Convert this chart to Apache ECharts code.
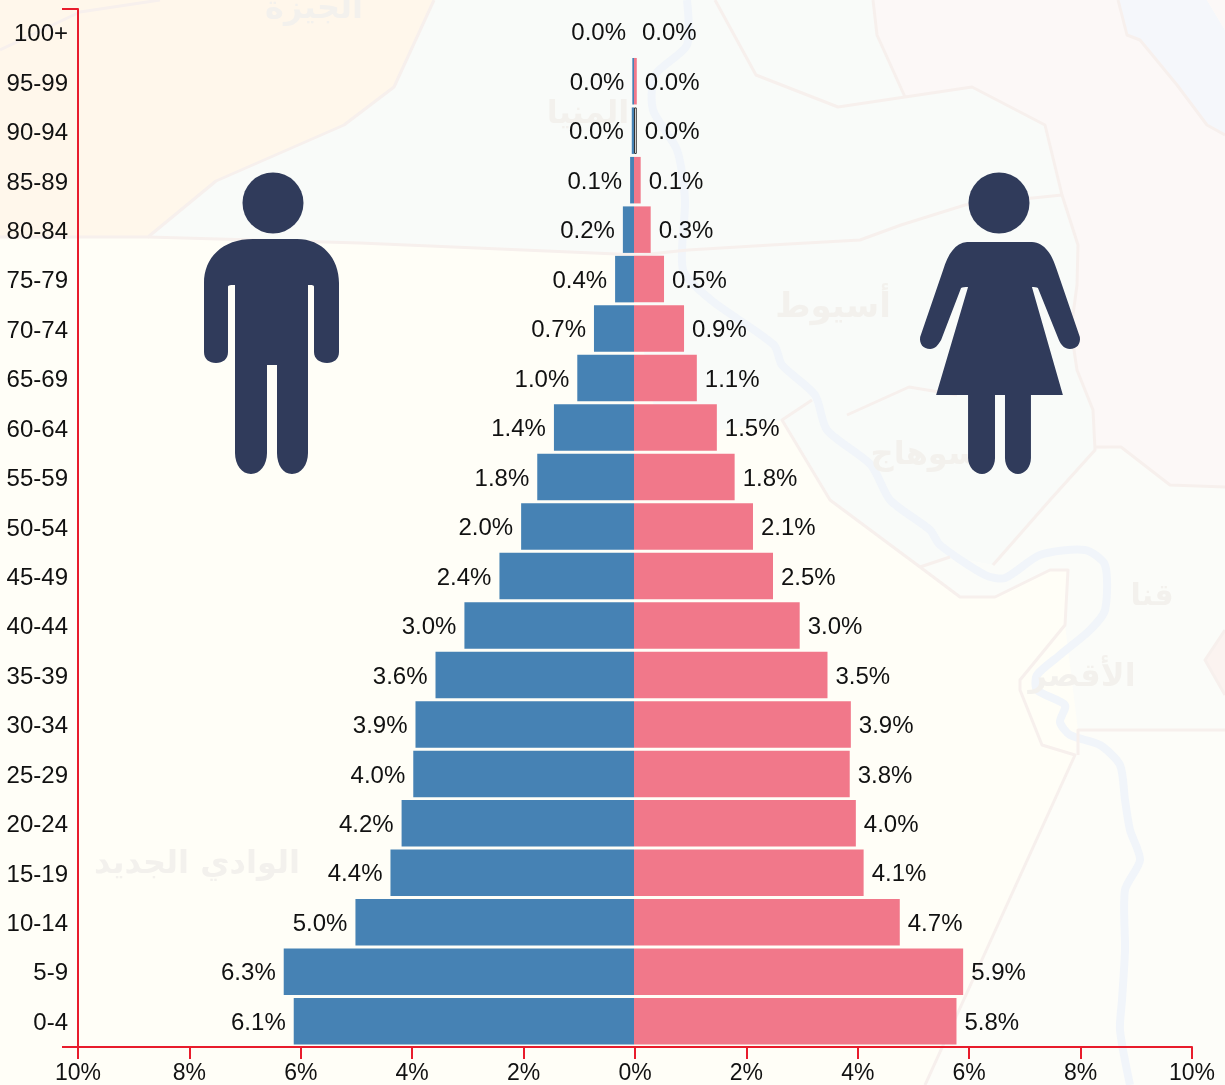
<!DOCTYPE html>
<html>
<head>
<meta charset="utf-8">
<style>html,body{margin:0;padding:0;background:#fffef7}#chart{width:1225px;height:1085px}</style>
<script src="https://cdn.jsdelivr.net/npm/echarts@6/dist/echarts.min.js"></script>
</head>
<body>
<div id="chart"></div>
<script>
const categories = ['0-4','5-9','10-14','15-19','20-24','25-29','30-34','35-39','40-44','45-49','50-54','55-59','60-64','65-69','70-74','75-79','80-84','85-89','90-94','95-99','100+'];
const maleValues = [6.12,6.30,5.01,4.38,4.18,3.97,3.93,3.57,3.05,2.42,2.03,1.74,1.44,1.02,0.72,0.34,0.20,0.07,0.04,0.03,0];
const femaleValues = [5.80,5.92,4.78,4.13,3.99,3.88,3.90,3.48,2.98,2.50,2.14,1.81,1.49,1.13,0.90,0.54,0.30,0.12,0.05,0.05,0];
const maleLabels = ['6.1%','6.3%','5.0%','4.4%','4.2%','4.0%','3.9%','3.6%','3.0%','2.4%','2.0%','1.8%','1.4%','1.0%','0.7%','0.4%','0.2%','0.1%','0.0%','0.0%','0.0%'];
const femaleLabels = ['5.8%','5.9%','4.7%','4.1%','4.0%','3.8%','3.9%','3.5%','3.0%','2.5%','2.1%','1.8%','1.5%','1.1%','0.9%','0.5%','0.3%','0.1%','0.0%','0.0%','0.0%'];

const FONT = '"Liberation Sans", Arial, sans-serif';
const RED = '#e81c2c', INK = '#111111', BLUE = '#4682b4', PINK = '#f1788a', FIGURE = '#303b5b';

// Faint map backdrop (decoration only)
const mapAreas = [
  ['#fff7eb', [[0,0],[434,0],[394,87],[344,125],[216,181],[148,237],[0,237]]],
  ['#f9fbf9', [[434,0],[873,0],[877,35],[905,97],[972,87],[1045,125],[1062,195],[1078,245],[1077,285],[1071,330],[1077,370],[1093,410],[1095,450],[1050,500],[993,565],[950,557],[920,567],[830,500],[782,420],[660,440],[640,330],[640,255],[360,243],[148,237],[216,181],[344,125],[394,87]]],
  ['#fcf8f7', [[873,0],[1118,0],[1127,35],[1140,40],[1177,85],[1207,125],[1225,135],[1225,487],[1170,485],[1121,447],[1095,450],[1093,410],[1077,370],[1071,330],[1077,285],[1078,245],[1062,195],[1045,125],[972,87],[905,97],[877,35]]],
  ['#f5f7fb', [[1118,0],[1207,0],[1225,30],[1225,135],[1207,125],[1177,85],[1140,40],[1127,35]]],
  ['#fcf8f7', [[1207,0],[1225,0],[1225,30]]],
  ['#fbfcf9', [[1095,450],[1121,447],[1170,485],[1225,487],[1225,730],[1078,730],[1065,625],[1068,570],[1050,570],[993,597],[960,597],[920,567],[950,557],[993,565],[1050,500]]],
  ['#fdfdf9', [[1078,730],[1225,730],[1225,1085],[925,1085],[1075,755]]],
  ['#fbf3f0', [[1225,630],[1205,660],[1225,695]]]
];
const mapBorders = [
  [[0,50],[80,12],[160,0]],
  [[0,237],[148,237],[216,181],[344,125],[394,87],[434,0]],
  [[148,237],[360,243],[640,255],[688,250],[771,245],[860,240],[901,225],[965,205],[1062,195]],
  [[715,0],[756,75],[838,107],[905,97],[972,87],[1045,125],[1062,195],[1078,245],[1077,285],[1071,330],[1077,370],[1093,410],[1095,450],[1050,500],[993,565]],
  [[873,0],[877,35],[905,97]],
  [[1095,447],[1121,447],[1170,485],[1225,487]],
  [[812,400],[782,420],[830,500],[920,567],[960,597],[995,597],[1050,570],[1068,570],[1065,625],[1020,680],[1020,690],[1042,745],[1075,755],[925,1085]],
  [[847,415],[909,387],[957,395]],
  [[920,567],[950,557]],
  [[1078,755],[1078,730],[1225,730]],
  [[1225,630],[1205,660],[1225,695]],
  [[1118,0],[1127,35],[1140,40],[1177,85],[1207,125],[1225,135]]
];
const river = [[687,0],[687,45],[655,75],[653,110],[677,150],[685,200],[683,270],[711,300],[774,345],[782,365],[815,395],[827,430],[871,465],[890,500],[930,530],[940,545],[985,575],[1005,578],[1040,555],[1085,550],[1105,565],[1105,610],[1090,630],[1060,655],[1037,675],[1037,690],[1065,705],[1060,722],[1070,735],[1100,745],[1120,765],[1125,800],[1130,830],[1140,860],[1125,890],[1125,950],[1122,1000],[1120,1030],[1130,1085]];
const placeNames = [
  ['الجيزة',314,10,32],['المنيا',588,115,32],['أسيوط',833,308,34],['سوهاج',925,456,32],
  ['قنا',1152,597,30],['الأقصر',1082,678,32],['الوادي الجديد',197,865,32]
];

const manPath = 'M253 239 L297 239 C322 239 339 258 339 283 L339 352 C339 359 334 363 327 363 C320 363 314 359 314 352 L314 287 C314 285 312 285 308 285 L308 453 C308 465 301 474 292 474 C283 474 277 465 277 453 L277 365 L267 365 L267 453 C267 465 260 474 251 474 C242 474 235 465 235 453 L235 285 C231 285 228 285 228 287 L228 352 C228 359 223 363 216 363 C209 363 204 359 204 352 L204 283 C204 258 222 239 253 239 Z';
const womanPath = 'M967 242 L1032 242 C1045 243 1052 254 1057 270 L1080 337 C1081 344 1077 349 1070 349 C1065 349 1061 345 1059 340 L1038 288 C1037 287 1034 287 1032 287 L1063 395 L1031 395 L1031 458 C1031 467 1025 474 1018 474 C1011 474 1005 467 1005 458 L1005 395 L995 395 L995 458 C995 467 989 474 982 474 C975 474 968 467 968 458 L968 395 L936 395 L968 287 C965 287 962 287 961 288 L941 340 C938 345 935 349 930 349 C923 349 919 344 920 337 L943 270 C948 254 955 243 967 242 Z';

const backdrop = [];
mapAreas.forEach(a => backdrop.push({type:'polygon', silent:true, z:0, shape:{points:a[1]}, style:{fill:a[0]}}));
backdrop.push({type:'polyline', silent:true, z:0, shape:{points:river, smooth:0.25}, style:{fill:'none', stroke:'#f1f5fa', lineWidth:8, lineJoin:'round'}});
mapBorders.forEach(b => backdrop.push({type:'polyline', silent:true, z:0, shape:{points:b}, style:{fill:'none', stroke:'#f7f0ed', lineWidth:3, lineJoin:'round'}}));
placeNames.forEach(p => backdrop.push({type:'text', silent:true, z:0, x:p[1], y:p[2], style:{text:p[0], fill:'#f3f1ed', font:'bold '+p[3]+'px "DejaVu Sans"', textAlign:'center', textVerticalAlign:'middle'}}));

const labelStyle = {fontFamily:FONT, fontSize:24, color:INK};

const femaleData = femaleValues.map((v,i) => categories[i] === '90-94'
  ? {value:v, itemStyle:{color:'#ffffff', borderColor:'#333333', borderWidth:1}}
  : v);

const option = {
  backgroundColor:'#fffef7',
  animation:false,
  graphic:{elements:backdrop},
  grid:[
    {left:78, width:1112, top:7, height:1039},
    {left:78, width:1114, top:9, height:1039},
    {left:78, width:1112, top:10, height:1038}
  ],
  xAxis:[
    {gridIndex:0, type:'value', min:-10, max:10, interval:2, show:false},
    {gridIndex:1, type:'value', min:-10, max:10, interval:2, position:'bottom',
     splitLine:{show:false},
     axisLine:{show:true, onZero:false, lineStyle:{color:RED, width:2}},
     axisTick:{show:true, length:12, lineStyle:{color:RED, width:2}},
     axisLabel:{...labelStyle, fontSize:23, margin:15, verticalAlign:'top', showMinLabel:true, showMaxLabel:true, hideOverlap:false, formatter:v => Math.abs(v)+'%'}},
    {gridIndex:2, type:'value', min:-10, max:10, interval:2, show:false}
  ],
  yAxis:[
    {gridIndex:0, type:'category', data:categories, show:false},
    {gridIndex:1, type:'value', min:0, max:1, interval:1, position:'left', splitLine:{show:false},
     axisLine:{show:true, onZero:false, lineStyle:{color:RED, width:2}},
     axisTick:{show:true, length:16, lineStyle:{color:RED, width:2}},
     axisLabel:{show:false}},
    {gridIndex:2, type:'category', data:categories, position:'left',
     axisLine:{show:false, onZero:false}, axisTick:{show:false},
     axisLabel:{...labelStyle, margin:10, interval:0}, splitLine:{show:false}}
  ],
  series:[
    {name:'Male', type:'bar', xAxisIndex:0, yAxisIndex:0, stack:'pyramid', barWidth:46.5,
     data:maleValues.map(v => -v), itemStyle:{color:BLUE}, silent:true,
     label:{show:true, position:'left', distance:8, offset:[0,2], ...labelStyle, formatter:p => maleLabels[p.dataIndex]}},
    {name:'Female', type:'bar', xAxisIndex:0, yAxisIndex:0, stack:'pyramid', barWidth:46.5,
     data:femaleData, itemStyle:{color:PINK}, silent:true,
     label:{show:true, position:'right', distance:8, offset:[0,2], ...labelStyle, formatter:p => femaleLabels[p.dataIndex]}},
    {name:'Figures', type:'custom', coordinateSystem:'none', silent:true, z:5, data:[0],
     renderItem:function(){
       return {type:'group', children:[
         {type:'circle', shape:{cx:273, cy:203, r:30.5}, style:{fill:FIGURE}},
         {type:'path', shape:{pathData:manPath, x:204, y:239, width:135, height:235, layout:'cover'}, style:{fill:FIGURE}},
         {type:'circle', shape:{cx:999, cy:203, r:30.5}, style:{fill:FIGURE}},
         {type:'path', shape:{pathData:womanPath, x:920, y:242, width:160, height:232, layout:'cover'}, style:{fill:FIGURE}}
       ]};
     }}
  ]
};
const chart = echarts.init(document.getElementById('chart'), null, {renderer:'canvas'});
chart.setOption(option);
</script>
</body>
</html>
